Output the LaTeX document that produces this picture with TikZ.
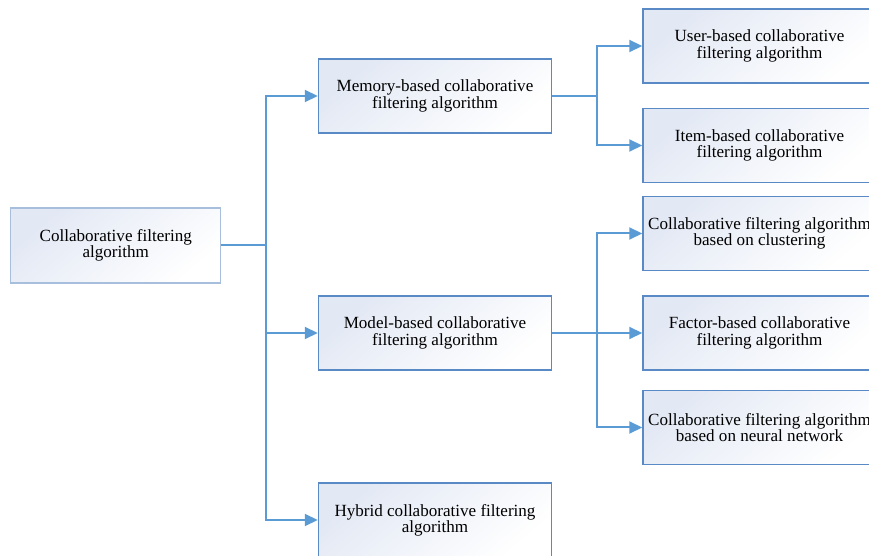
\documentclass[tikz,border=0pt]{standalone}
\usepackage{fontspec}
\setmainfont{Liberation Serif}
\usetikzlibrary{arrows.meta}
\definecolor{edgeblue}{HTML}{5B9BD5}
\definecolor{boxline}{HTML}{5A8AC6}
\definecolor{rootline}{HTML}{A7BEDC}
\definecolor{boxtint}{HTML}{E2E8F4}
\tikzset{
  box/.style={draw=boxline, line width=1.1pt, top color=boxtint, bottom color=white,
    shading angle=40, minimum width=174.75pt, minimum height=55.5pt, inner sep=0pt,
    align=center, font=\fontsize{12.8}{12.2}\selectfont},
  rootbox/.style={box, draw=rootline, minimum width=157.5pt, minimum height=56.25pt},
  link/.style={draw=edgeblue, line width=1.5pt},
  arrow/.style={link, -{Triangle[length=9.75pt, width=9pt]}}
}
\begin{document}
\begin{tikzpicture}[x=0.75pt, y=-0.75pt]
\useasboundingbox (0,0) rectangle (869,556);
\clip (0,0) rectangle (869,556);
% tree of collaborative filtering approaches
\node[rootbox] (root) at (115.75,245.5) {Collaborative filtering\\algorithm};
\node[box] (mem) at (435,96) {Memory-based collaborative\\filtering algorithm};
\node[box] (model) at (435,333) {Model-based collaborative\\filtering algorithm};
\node[box] (hyb) at (435,520) {Hybrid collaborative filtering\\algorithm};
\node[box] (user) at (759.5,46) {User-based collaborative\\filtering algorithm};
\node[box] (item) at (759.5,145.5) {Item-based collaborative\\filtering algorithm};
\node[box] (clus) at (759.5,233.5) {Collaborative filtering algorithm\\based on clustering};
\node[box] (fact) at (759.5,333) {Factor-based collaborative\\filtering algorithm};
\node[box] (neur) at (759.5,427.5) {Collaborative filtering algorithm\\based on neural network};
% first level branches
\draw[link] (root.east) -- (266,245.5) coordinate (j1);
\draw[arrow] (j1) |- (mem.west);
\draw[arrow] (j1) |- (model.west);
\draw[arrow] (j1) |- (hyb.west);
% memory-based branches
\draw[link] (mem.east) -- (597,96) coordinate (j2);
\draw[arrow] (j2) |- (user.west);
\draw[arrow] (j2) |- (item.west);
% model-based branches
\draw[link] (model.east) -- (597,333) coordinate (j3);
\draw[arrow] (j3) |- (clus.west);
\draw[arrow] (j3) -- (fact.west);
\draw[arrow] (j3) |- (neur.west);
\end{tikzpicture}
\end{document}
